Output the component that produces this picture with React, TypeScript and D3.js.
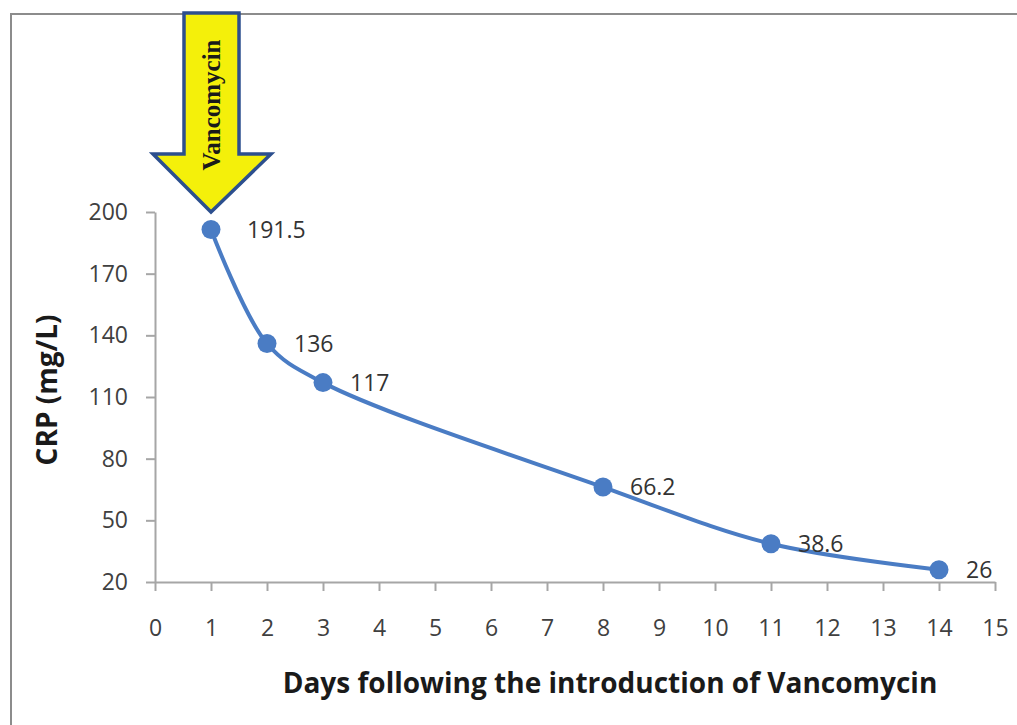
import React, { useEffect, useRef } from 'react';
import * as d3 from 'd3';

// CRP values
const days = [1, 2, 3, 8, 11, 14];
const crp = [191.5, 136, 117, 66.2, 38.6, 26];
const crpLabels = ['191.5', '136', '117', '66.2', '38.6', '26'];

const xTicks = [0, 1, 2, 3, 4, 5, 6, 7, 8, 9, 10, 11, 12, 13, 14, 15];
const yTicks = [20, 50, 80, 110, 140, 170, 200];

const arrowDay = 1;
const arrowText = 'Vancomycin';
const xTitle = 'Days following the introduction of Vancomycin';
const yTitle = 'CRP (mg/L)';

const W = 1017, H = 725;

const App = () => {
  const ref = useRef(null);

  useEffect(() => {
    if (!ref.current) return;
    const svg = d3.select(ref.current);
    svg.selectAll('*').remove();

    const sans = "'Open Sans', 'Noto Sans', sans-serif";
    const axisColor = '#a6a6a6';
    const blue = '#4a7cc4';

    const x = d3.scaleLinear().domain([0, 15]).range([155, 995]);
    const y = d3.scaleLinear().domain([20, 200]).range([582, 212]);

    svg.append('rect').attr('width', W).attr('height', H).attr('fill', '#fff');

    // outer frame (only top/left visible in the crop)
    svg.append('rect')
      .attr('x', 11).attr('y', 14)
      .attr('width', W + 40).attr('height', H + 40)
      .attr('fill', 'none')
      .attr('stroke', '#8c8c8c')
      .attr('stroke-width', 2);

    // x axis
    const gx = svg.append('g').attr('transform', `translate(0,${y(20)})`);
    gx.call(d3.axisBottom(x).tickValues(xTicks).tickSizeInner(9).tickSizeOuter(0).tickPadding(29));
    gx.select('.domain').attr('stroke', axisColor).attr('stroke-width', 2);
    gx.selectAll('.tick line').attr('stroke', axisColor).attr('stroke-width', 2);
    gx.selectAll('.tick text')
      .attr('font-family', sans).attr('font-size', 23).attr('fill', '#404040');

    // y axis
    const gy = svg.append('g').attr('transform', `translate(${x(0)},0)`);
    gy.call(d3.axisLeft(y).tickValues(yTicks).tickSizeInner(9).tickSizeOuter(0).tickPadding(18));
    gy.select('.domain').attr('stroke', axisColor).attr('stroke-width', 2);
    gy.selectAll('.tick line').attr('stroke', axisColor).attr('stroke-width', 2);
    gy.selectAll('.tick text')
      .attr('font-family', sans).attr('font-size', 23).attr('fill', '#404040');

    // titles
    svg.append('text')
      .attr('x', 610).attr('y', 693)
      .attr('text-anchor', 'middle')
      .attr('font-family', sans).attr('font-weight', 'bold').attr('font-size', 28)
      .attr('fill', '#1a1a1a')
      .text(xTitle);

    svg.append('text')
      .attr('transform', 'translate(57,390) rotate(-90)')
      .attr('text-anchor', 'middle')
      .attr('font-family', sans).attr('font-weight', 'bold').attr('font-size', 28)
      .attr('fill', '#1a1a1a')
      .text(yTitle);

    const pts = days.map((d, i) => [x(d), y(crp[i])] as [number, number]);

    // smoothed line
    svg.append('path')
      .attr('d', d3.line().curve(d3.curveCatmullRom.alpha(0.5))(pts))
      .attr('fill', 'none')
      .attr('stroke', blue)
      .attr('stroke-width', 4);

    svg.selectAll('.dot')
      .data(pts)
      .enter().append('circle')
      .attr('class', 'dot')
      .attr('cx', d => d[0]).attr('cy', d => d[1])
      .attr('r', 9.5)
      .attr('fill', blue);

    svg.selectAll('.lbl')
      .data(pts)
      .enter().append('text')
      .attr('class', 'lbl')
      .attr('x', (d, i) => d[0] + (i === 0 ? 36 : 27))
      .attr('y', d => d[1])
      .attr('dy', '0.35em')
      .attr('font-family', sans).attr('font-size', 23).attr('fill', '#333')
      .text((d, i) => crpLabels[i]);

    // Vancomycin arrow pointing at day 1
    const ax = x(arrowDay), tipY = y(200);
    const arrow = [
      [ax - 27, 13], [ax + 28, 13], [ax + 28, tipY - 58], [ax + 60, tipY - 58],
      [ax, tipY], [ax - 58, tipY - 58], [ax - 27, tipY - 58]
    ];
    svg.append('path')
      .attr('d', 'M' + arrow.map(p => p.join(',')).join('L') + 'Z')
      .attr('fill', '#f4f00a')
      .attr('stroke', '#2c4f8e')
      .attr('stroke-width', 3.5)
      .attr('stroke-linejoin', 'miter');

    svg.append('text')
      .attr('transform', `translate(${ax + 9},105) rotate(-90)`)
      .attr('text-anchor', 'middle')
      .attr('font-family', "'Liberation Serif', 'Times New Roman', serif")
      .attr('font-weight', 'bold').attr('font-size', 25)
      .attr('fill', '#1a1a1a')
      .text(arrowText);
  }, []);

  return (
    <svg
      ref={ref}
      width={W}
      height={H}
      style={{ position: 'absolute', left: 0, top: 0 }}
    />
  );
};

export default App;
